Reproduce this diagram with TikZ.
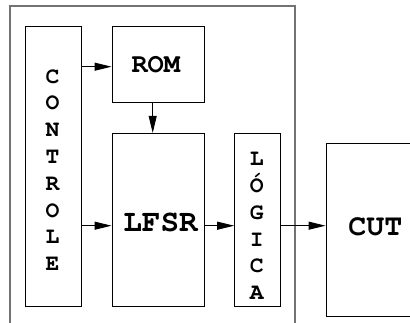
\documentclass[tikz,border=0pt]{standalone}
\usepackage[T1,TU]{fontenc}
\usetikzlibrary{arrows.meta}
\newcommand{\cour}{\fontencoding{T1}\fontfamily{pcr}\fontseries{b}\fontshape{n}\selectfont}
\tikzset{
  blk/.style={draw=black, line width=0.9pt, inner sep=0pt, anchor=center},
  lbl/.style={inner sep=0pt, anchor=center},
  vlbl/.style={inner sep=0pt, anchor=north, align=center},
  arr/.style={line width=0.9pt, -{Triangle[length=17pt,width=8pt]}},
  frame/.style={draw=black!55, line width=1.6pt}
}
\begin{document}
\begin{tikzpicture}[x=1pt,y=-1pt]
\useasboundingbox (0,0) rectangle (410,323);
% outer frame (open at bottom)
\draw[frame] (10,335) -- (10,5.8) -- (295,5.8) -- (295,335);
% boxes
\node[blk, minimum width=56pt, minimum height=279.7pt] (ctrl) at (53.3,166.2) {};
\node[blk, minimum width=92pt, minimum height=76pt] (rom) at (158,64.3) {};
\node[blk, minimum width=92pt, minimum height=172.7pt] (lfsr) at (158,219.7) {};
\node[blk, minimum width=45.3pt, minimum height=172.7pt] (logic) at (257.3,219.7) {};
\node[blk, minimum width=98pt, minimum height=172.6pt] (cut) at (375,230) {};
% texts
\node[lbl, font={\cour\fontsize{27}{27}\selectfont}] (romt) at (155.8,65) {ROM};
\node[lbl, font={\cour\fontsize{31}{31}\selectfont}] (lfsrt) at (160.5,222.5) {LFSR};
\node[lbl, font={\cour\fontsize{30}{30}\selectfont}] (cutt) at (375.3,226.7) {CUT};
\node[vlbl, font={\cour\fontsize{23}{26.8}\selectfont}] (ctrlt) at (52.5,69.3) {C\\O\\N\\T\\R\\O\\L\\E};
\node[vlbl, font={\cour\fontsize{23}{26.9}\selectfont}] (logict) at (256.7,152.3) {L\\\'O\\G\\I\\C\\A};
% connectors
\draw[arr] (ctrl.east |- 0,66.7) -- (rom.west |- 0,66.7);
\draw[arr] (rom.south -| 152.7,0) -- (lfsr.north -| 152.7,0);
\draw[arr] (ctrl.east |- 0,225.7) -- (lfsr.west |- 0,225.7);
\draw[arr] (lfsr.east |- 0,225.7) -- (logic.west |- 0,225.7);
\draw[arr] (logic.east |- 0,225.7) -- (cut.west |- 0,225.7);
\end{tikzpicture}
\end{document}
